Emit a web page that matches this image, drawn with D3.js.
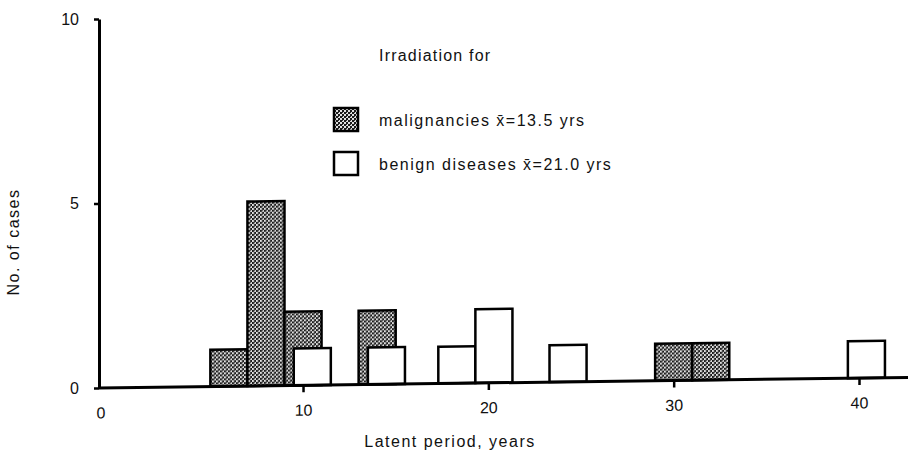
<!DOCTYPE html>
<html>
<head>
<meta charset="utf-8">
<script src="https://cdn.jsdelivr.net/npm/d3@7"></script>
<style>
  html, body { margin: 0; padding: 0; background: #fff; }
  svg { display: block; }
  text { font-family: "Liberation Sans", Arial, sans-serif; fill: #111; }
</style>
</head>
<body>
<svg id="chart" width="908" height="455"></svg>
<script>
// ---- data ----
const malignantStart = [5, 7, 9, 13, 29, 31];        // latent period bin start, years
const malignantCount = [1, 5, 2, 2, 1, 1];
const benignStart    = [9.5, 13.5, 17.3, 19.3, 23.3, 39.4];
const benignCount    = [1, 1, 1, 2, 1, 1];
const binWidth = 2;
const xTicks = [10, 20, 30, 40];
const yTicks = [0, 5, 10];
const legendLabels = ["malignancies x\u0304=13.5 yrs", "benign diseases x\u0304=21.0 yrs"];
const legendTitle = "Irradiation for";
const xTitle = "Latent period, years";
const yTitle = "No. of cases";

// ---- layout ----
const W = 908, H = 455;
const axisX = 99;
const svg = d3.select("#chart");

const x = d3.scaleLinear().domain([0, 40]).range([117.7, 859]);
const y = d3.scaleLinear().domain([0, 10]).range([388, 19]);

const defs = svg.append("defs");
const pat = defs.append("pattern")
  .attr("id", "dots").attr("patternUnits", "userSpaceOnUse")
  .attr("width", 4).attr("height", 4);
pat.append("rect").attr("width", 4).attr("height", 4).attr("fill", "#e0e0e0");
pat.append("rect").attr("x", 0).attr("y", 0).attr("width", 2).attr("height", 2).attr("fill", "#1a1a1a");
pat.append("rect").attr("x", 2).attr("y", 2).attr("width", 2).attr("height", 2).attr("fill", "#1a1a1a");
pat.append("rect").attr("x", 2).attr("y", 0).attr("width", 1).attr("height", 1).attr("fill", "#333");

// plot group slightly skewed, like the scanned original
const plot = svg.append("g")
  .attr("transform", `translate(${axisX},0) skewY(-0.75) translate(${-axisX},0)`);

const mal = malignantStart.map((s, i) => ({ s, v: malignantCount[i] }));
const ben = benignStart.map((s, i) => ({ s, v: benignCount[i] }));

plot.selectAll("rect.mal").data(mal).enter().append("rect")
  .attr("class", "mal")
  .attr("x", d => x(d.s)).attr("width", d => x(d.s + binWidth) - x(d.s))
  .attr("y", d => y(d.v)).attr("height", d => y(0) - y(d.v))
  .attr("fill", "url(#dots)").attr("stroke", "#000").attr("stroke-width", 2.5);

plot.selectAll("rect.ben").data(ben).enter().append("rect")
  .attr("class", "ben")
  .attr("x", d => x(d.s)).attr("width", d => x(d.s + binWidth) - x(d.s))
  .attr("y", d => y(d.v)).attr("height", d => y(0) - y(d.v))
  .attr("fill", "#fff").attr("stroke", "#000").attr("stroke-width", 2.5);

// x axis
const xAxis = plot.append("g").attr("transform", `translate(0,${y(0)})`)
  .call(d3.axisBottom(x).tickValues(xTicks).tickSize(7).tickPadding(12).tickSizeOuter(0));
xAxis.select(".domain").remove();
xAxis.selectAll(".tick line").attr("stroke", "#000").attr("stroke-width", 2.5);
xAxis.selectAll(".tick text").attr("font-size", 16).attr("font-family", "Liberation Sans, Arial, sans-serif").attr("fill", "#111");
xAxis.append("line").attr("x1", axisX).attr("x2", W + 20).attr("y1", 0).attr("y2", 0)
  .attr("stroke", "#000").attr("stroke-width", 3);
xAxis.append("text").attr("x", axisX + 2).attr("y", 19).attr("dy", "0.71em")
  .attr("text-anchor", "middle").attr("font-size", 16).text("0");

// y axis
const yAxis = svg.append("g").attr("transform", `translate(${axisX},0)`)
  .call(d3.axisLeft(y).tickValues(yTicks).tickSize(5).tickPadding(15).tickSizeOuter(0));
yAxis.select(".domain").attr("stroke", "#000").attr("stroke-width", 3);
yAxis.selectAll(".tick line").attr("stroke", "#000").attr("stroke-width", 2.5);
yAxis.selectAll(".tick text").attr("font-size", 16).attr("font-family", "Liberation Sans, Arial, sans-serif").attr("fill", "#111");

// titles
svg.append("text").attr("x", 450).attr("y", 447).attr("text-anchor", "middle")
  .attr("font-size", 16).attr("letter-spacing", 1.5).text(xTitle);
svg.append("text").attr("transform", "translate(19,242) rotate(-90)").attr("text-anchor", "middle")
  .attr("font-size", 16).attr("letter-spacing", 1.5).text(yTitle);

// legend
svg.append("text").attr("x", 379).attr("y", 61).attr("font-size", 16).attr("letter-spacing", 1.2).text(legendTitle);
const legY = [108, 152];
const legFill = ["url(#dots)", "#fff"];
legendLabels.forEach((lab, i) => {
  svg.append("rect").attr("x", 334).attr("y", legY[i]).attr("width", 24).attr("height", 23)
    .attr("fill", legFill[i]).attr("stroke", "#000").attr("stroke-width", 2.5);
  svg.append("text").attr("x", 379).attr("y", legY[i] + 18).attr("font-size", 16)
    .attr("letter-spacing", 1.5).text(lab);
});
</script>
</body>
</html>
